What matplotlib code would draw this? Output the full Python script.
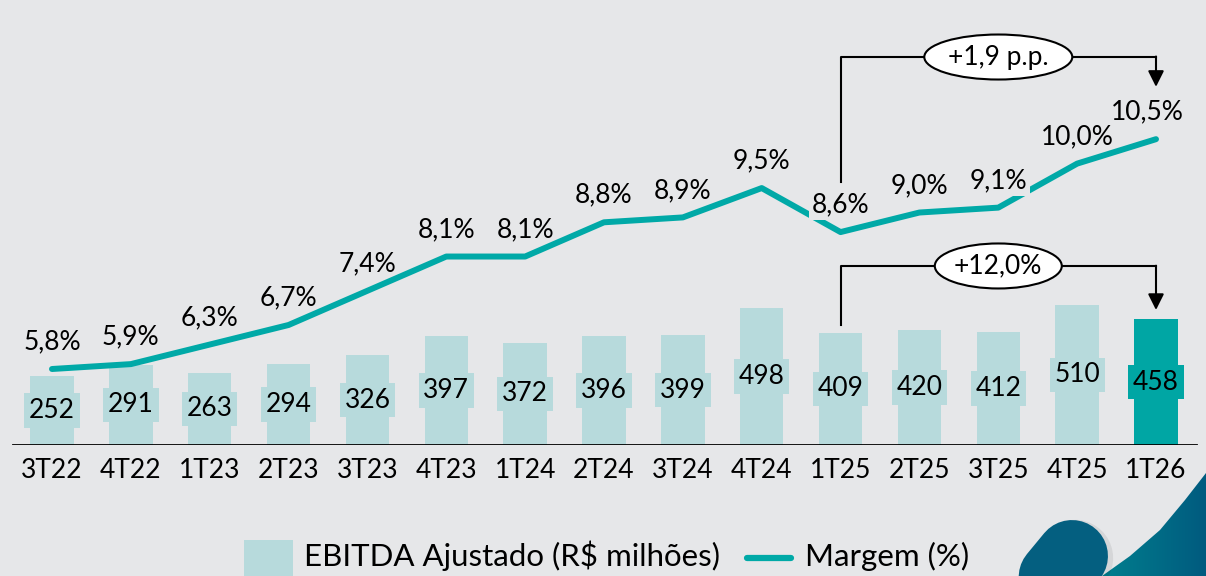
import matplotlib
matplotlib.use('Agg')
import matplotlib.pyplot as plt
from matplotlib.patches import Ellipse, Rectangle, Polygon
import numpy as np

# ---------- Data ----------
quarters = ["3T22", "4T22", "1T23", "2T23", "3T23", "4T23", "1T24", "2T24",
            "3T24", "4T24", "1T25", "2T25", "3T25", "4T25", "1T26"]
ebitda = [252, 291, 263, 294, 326, 397, 372, 396, 399, 498, 409, 420, 412, 510, 458]
margem = [5.8, 5.9, 6.3, 6.7, 7.4, 8.1, 8.1, 8.8, 8.9, 9.5, 8.6, 9.0, 9.1, 10.0, 10.5]
delta_margem = "+1,9 p.p."
delta_ebitda = "+12,0%"

BG = '#E6E7E9'
BAR = '#B7DADC'
HIGHLIGHT = '#00A6A4'
LINE = '#00A9A7'
FONT = 'Lato'

plt.rcParams['font.family'] = [FONT, 'DejaVu Sans']

W, H = 1206, 576
fig = plt.figure(figsize=(W / 100, H / 100), dpi=100, facecolor=BG)

# background axes in pixel coords (decoration + legend)
bg = fig.add_axes([0, 0, 1, 1], zorder=0)
bg.axis('off')

# ---------- Main axes ----------
base_px = 445
ax = fig.add_axes([0, (H - base_px) / H, 1, base_px / H], zorder=2)
ax.patch.set_alpha(0)
step = 1104 / 14
xmin = -52 / step
ax.set_xlim(xmin, xmin + W / step)
ax.set_ylim(0, base_px / 0.275)

ax2 = ax.twinx()
ax2.patch.set_alpha(0)
m_scale = 48.9
ax2.set_ylim(5.8 - (base_px - 369) / m_scale, 5.8 + 369 / m_scale)

for a in (ax, ax2):
    for s in a.spines.values():
        s.set_visible(False)
    a.set_yticks([])

x = np.arange(len(quarters))
colors = [BAR] * (len(quarters) - 1) + [HIGHLIGHT]
ax.bar(x, ebitda, width=0.55, color=colors, zorder=2)
ax.axhline(0, xmin=13 / W, xmax=1196 / W, color='black', lw=2, zorder=3)

for i, v in enumerate(ebitda):
    ax.text(i, v / 2, str(v), ha='center', va='center', fontsize=19, color='black',
            zorder=4, bbox=dict(boxstyle='square,pad=0.18', fc=colors[i], ec='none'))

ax.set_xticks(x)
ax.set_xticklabels(quarters, fontsize=19)
ax.tick_params(axis='x', length=0, pad=9)

# margin line
ax2.plot(x, margem, color=LINE, lw=4.3, solid_capstyle='round', zorder=3)
cut = {10, 12}   # labels whose box breaks the line in the source
for i, v in enumerate(margem):
    dx = -6 if i == len(margem) - 1 else 0
    box = dict(boxstyle='square,pad=0.1', fc=BG, ec='none') if i in cut else None
    ax2.annotate(f"{v:.1f}%".replace('.', ','), (i, v), xytext=(dx, 19.5),
                 textcoords='offset points', ha='center', va='center', fontsize=19,
                 zorder=5, bbox=box)

# ---------- Brackets ----------
i0, i1 = 10, len(quarters) - 1
mid = (i0 + i1) / 2

# margin bracket
top_m = margem[i1] + 1.68
ax2.plot([i0, i0, i1], [margem[i0] + 1.02, top_m, top_m], color='black', lw=1.5, zorder=4)
ax2.annotate('', xy=(i1, margem[i1] + 1.07), xytext=(i1, top_m + 0.01),
             arrowprops=dict(arrowstyle='-|>', color='black', lw=1.5,
                             mutation_scale=24, shrinkA=0, shrinkB=0), zorder=4)
ax2.add_patch(Ellipse((mid, top_m), 148 / step, 45 / m_scale, fc='white', ec='black',
                      lw=1.5, zorder=5))
ax2.text(mid, top_m, delta_margem, ha='center', va='center', fontsize=19, zorder=6)

# ebitda bracket
top_e = max(ebitda) + 141
ax.plot([i0, i0, i1], [ebitda[i0] + 27, top_e, top_e], color='black', lw=1.5, zorder=4)
ax.annotate('', xy=(i1, ebitda[i1] + 33), xytext=(i1, top_e + 1),
            arrowprops=dict(arrowstyle='-|>', color='black', lw=1.5,
                            mutation_scale=24, shrinkA=0, shrinkB=0), zorder=4)
ax.add_patch(Ellipse((mid, top_e), 127 / step, 45 / 0.275, fc='white', ec='black',
                     lw=1.5, zorder=5))
ax.text(mid, top_e, delta_ebitda, ha='center', va='center', fontsize=19, zorder=6)

# ---------- Legend ----------
bg.add_patch(Rectangle((244, 540), 49, 40, fc=BAR, ec='none'))
bg.text(304, 556, "EBITDA Ajustado (R$ milhões)", ha='left', va='center', fontsize=22.5)
bg.plot([747, 791], [558, 558], color=LINE, lw=4.5, solid_capstyle='round')
bg.text(805, 556, "Margem (%)", ha='left', va='center', fontsize=22.5)

# ---------- Corner decoration ----------
curve = Polygon([(1206, 473), (1185, 500), (1160, 530), (1130, 556), (1102, 576),
                 (1206, 576)], closed=True, fc='none', ec='none')
bg.add_patch(curve)
cmap = matplotlib.colors.LinearSegmentedColormap.from_list('g', ['#00818F', '#005B7F'])
im = bg.imshow(np.linspace(0, 1, 100).reshape(1, -1), extent=(1095, 1206, 576, 470),
               cmap=cmap, aspect='auto', zorder=1)
im.set_clip_path(curve)
d = np.array([-0.637, 0.771])
c0 = np.array([1072, 556])
c1 = c0 + 160 * d
bg.plot([c0[0] + 3, c1[0] + 3], [c0[1] + 2, c1[1] + 2], color='black', alpha=0.07,
        lw=55, solid_capstyle='round', zorder=2)
bg.plot([c0[0], c1[0]], [c0[1], c1[1]], color='#045F80', lw=51.8,
        solid_capstyle='round', zorder=3)
bg.set_xlim(0, W)
bg.set_ylim(H, 0)

plt.savefig('out.png', dpi=100, facecolor=BG)
